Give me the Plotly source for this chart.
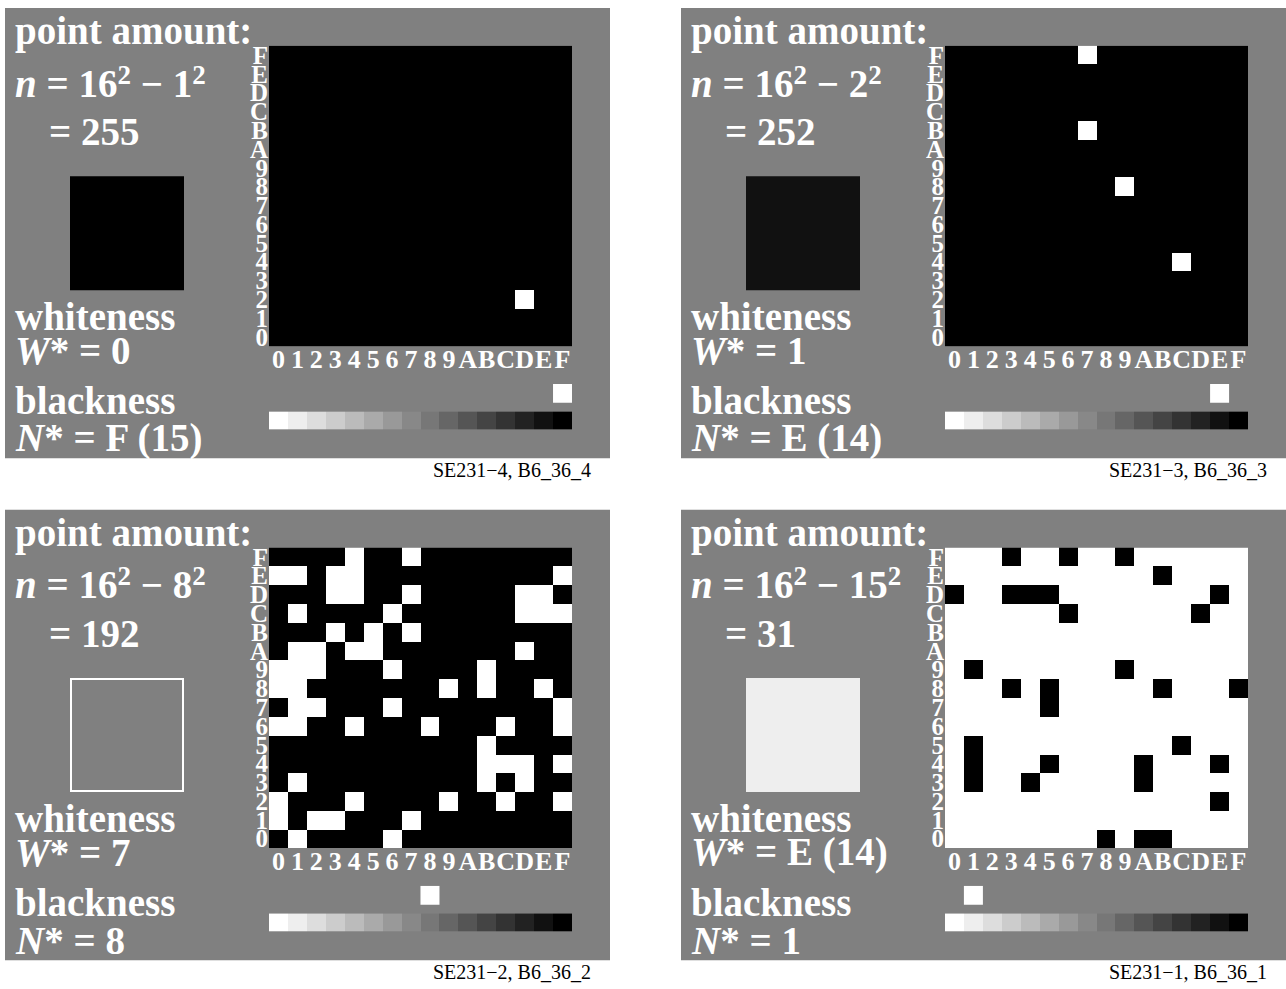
import plotly.graph_objects as go

W, H = 1286, 989

hex_labels = list("0123456789ABCDEF")

# rows listed from top (F) to bottom (0); '#' = black point, '.' = white point
grid_se231_4 = [
    "################",
    "################",
    "################",
    "################",
    "################",
    "################",
    "################",
    "################",
    "################",
    "################",
    "################",
    "################",
    "################",
    "#############.##",
    "################",
    "################",
]
grid_se231_3 = [
    "#######.########",
    "################",
    "################",
    "################",
    "#######.########",
    "################",
    "################",
    "#########.######",
    "################",
    "################",
    "################",
    "############.###",
    "################",
    "################",
    "################",
    "################",
]
grid_se231_2 = [
    "####.##.########",
    "..#..##########.",
    "###..##.#####..#",
    "#.####.######...",
    "###.#.#.########",
    "#..#..#######.##",
    "...###.####.####",
    "..#######.#.##.#",
    "#..###.########.",
    "..##.###.###.##.",
    "###########.####",
    "###########...#.",
    "#.#########.#.##",
    ".###.####.##.##.",
    ".#..###.########",
    "#.####.#########",
]
grid_se231_1 = [
    "...#..#..#......",
    "...........#....",
    "#..###........#.",
    "......#......#..",
    "................",
    "................",
    ".#.......#......",
    "...#.#.....#...#",
    ".....#..........",
    "................",
    ".#..........#...",
    ".#...#....#...#.",
    ".#..#.....#.....",
    "..............#.",
    "................",
    "........#.##....",
]

grids = [grid_se231_4, grid_se231_3, grid_se231_2, grid_se231_1]
removed_side = [1, 2, 8, 15]
point_amount = [255, 252, 192, 31]
whiteness_text = ["0", "1", "7", "E (14)"]
blackness_text = ["F (15)", "E (14)", "8", "1"]
blackness_level = [15, 14, 8, 1]
swatch_grey = [0, 17, 128, 238]
swatch_outline = [0, 0, 2, 0]
scale_steps = list(range(16))
panel_ids = ["SE231\u22124, B6_36_4", "SE231\u22123, B6_36_3",
             "SE231\u22122, B6_36_2", "SE231\u22121, B6_36_1"]

BG = "#808080"
FONT = "Liberation Serif, Times New Roman, serif"
offsets = [(0, 0), (676, 0), (0, 506), (676, 506)]


def xd(a, b):
    return [a / W, b / W]


def yd(top, bottom):
    return [1 - bottom / H, 1 - top / H]


def sfx(i):
    return "" if i == 1 else str(i)


def sq(t):
    return '<span style="font-size:27px;baseline-shift:13px">%s</span>' % t


fig = go.Figure()
layout = {}
annotations = []
shapes = []

hidden = dict(showgrid=False, zeroline=False, showline=False, ticks="",
              showticklabels=False, fixedrange=True)

for p in range(4):
    ox, oy = offsets[p]
    ig, isc, isw = 3 * p + 1, 3 * p + 2, 3 * p + 3

    # panel background
    shapes.append(dict(type="rect", xref="paper", yref="paper", layer="below",
                       x0=(5 + ox) / W, x1=(610 + ox) / W,
                       y0=1 - (458 + oy) / H, y1=1 - (4 + oy) / H,
                       fillcolor=BG, line=dict(width=0)))

    # 16x16 grid
    z = [[1 if ch == "#" else 0 for ch in row] for row in reversed(grids[p])]
    fig.add_trace(go.Heatmap(z=z, x=list(range(16)), y=list(range(16)),
                             colorscale=[[0, "#ffffff"], [1, "#000000"]],
                             zmin=0, zmax=1, showscale=False, hoverinfo="skip",
                             xaxis="x" + sfx(ig), yaxis="y" + sfx(ig)))
    tick_common = dict(showgrid=False, zeroline=False, showline=False, ticks="",
                       fixedrange=True, range=[-0.5, 15.5], tickmode="array",
                       tickvals=list(range(16)), tickangle=0,
                       ticktext=hex_labels)
    layout["xaxis" + sfx(ig)] = dict(domain=xd(269 + ox, 572 + ox), anchor="y" + sfx(ig),
                                    tickfont=dict(family=FONT, size=26, color="white",
                                                  weight="bold"),
                                    ticklabelstandoff=-5,
                                    **tick_common)
    layout["yaxis" + sfx(ig)] = dict(domain=yd(42 + oy, 345 + oy), anchor="x" + sfx(ig),
                                    tickfont=dict(family=FONT, size=25, color="white",
                                                  weight="bold"),
                                    ticklabelstandoff=0,
                                    **tick_common)

    # grey scale bar + marker
    fig.add_trace(go.Heatmap(z=[scale_steps], x=scale_steps, y0=9, dy=18,
                             colorscale=[[0, "#ffffff"], [1, "#000000"]],
                             zmin=0, zmax=15, showscale=False, hoverinfo="skip",
                             xaxis="x" + sfx(isc), yaxis="y" + sfx(isc)))
    fig.add_trace(go.Scatter(x=[blackness_level[p]], y=[36.5], mode="markers",
                             marker=dict(symbol="square", size=19, color="white",
                                         line=dict(width=0)),
                             hoverinfo="skip", showlegend=False,
                             xaxis="x" + sfx(isc), yaxis="y" + sfx(isc)))
    layout["xaxis" + sfx(isc)] = dict(domain=xd(269 + ox, 572 + ox), anchor="y" + sfx(isc),
                                     range=[-0.5, 15.5], **hidden)
    layout["yaxis" + sfx(isc)] = dict(domain=yd(383 + oy, 429 + oy), anchor="x" + sfx(isc),
                                     range=[0, 46], **hidden)

    # swatch
    g = swatch_grey[p]
    fig.add_trace(go.Scatter(x=[0], y=[0], mode="markers",
                             marker=dict(symbol="square", size=114 - swatch_outline[p],
                                         color="rgb(%d,%d,%d)" % (g, g, g),
                                         line=dict(width=swatch_outline[p], color="white")),
                             hoverinfo="skip", showlegend=False,
                             xaxis="x" + sfx(isw), yaxis="y" + sfx(isw)))
    layout["xaxis" + sfx(isw)] = dict(domain=xd(57 + ox, 197 + ox), anchor="y" + sfx(isw),
                                     range=[-1, 1], **hidden)
    layout["yaxis" + sfx(isw)] = dict(domain=yd(161 + oy, 301 + oy), anchor="x" + sfx(isw),
                                     range=[-1, 1], **hidden)

    # texts (x, baseline in panel pixels)
    S = 39
    lines = [
        ("point amount:", 13, 42),
        ("<i>n</i> = 16%s \u2212 %d%s" % (sq(2), removed_side[p], sq(2)), 13, 94),
        ("= %d" % point_amount[p], 47, 143),
        ("whiteness", 13, 329),
        ("<i>W</i>* = %s" % whiteness_text[p], 13, 364),
        ("blackness", 13, 414),
        ("<i>N</i>* = %s" % blackness_text[p], 13, 452),
    ]
    for txt, lx, base in lines:
        annotations.append(dict(text=txt, xref="paper", yref="paper",
                                x=(lx + ox) / W, y=1 - (base + 0.216 * S + 1 + oy) / H,
                                xanchor="left", yanchor="bottom", showarrow=False,
                                font=dict(family=FONT, size=S, color="white",
                                          weight="bold")))
    annotations.append(dict(text=panel_ids[p], xref="paper", yref="paper",
                            x=(593 + ox) / W, y=1 - (478 + 0.216 * 20 + 1 + oy) / H,
                            xanchor="right", yanchor="bottom", showarrow=False,
                            font=dict(family=FONT, size=20, color="black")))

fig.update_layout(width=W, height=H, margin=dict(l=0, r=0, t=0, b=0),
                  paper_bgcolor="white", plot_bgcolor="rgba(0,0,0,0)",
                  showlegend=False, annotations=annotations, shapes=shapes,
                  **layout)

fig.write_html("out.html", config={"displayModeBar": False},
               post_script="document.body.style.margin='0';"
                           "document.body.style.overflow='hidden';")
